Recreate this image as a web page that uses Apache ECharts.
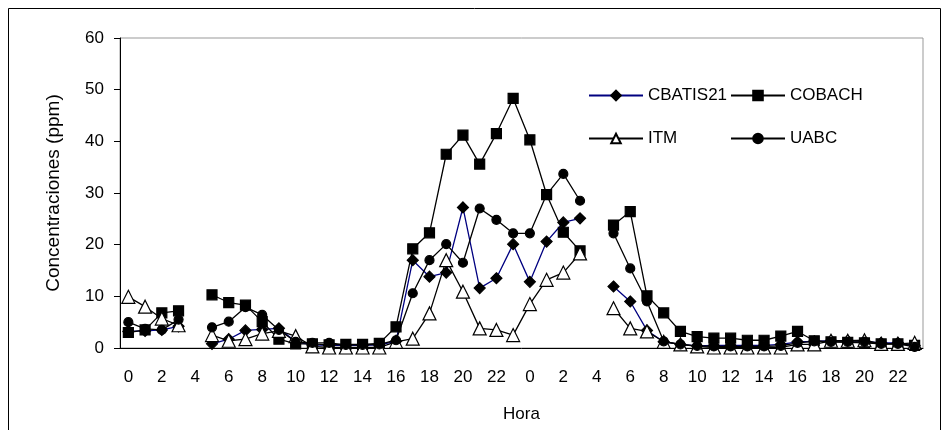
<!DOCTYPE html>
<html>
<head>
<meta charset="utf-8">
<script src="https://cdn.jsdelivr.net/npm/echarts@6/dist/echarts.min.js"></script>
<style>
  html, body { margin: 0; padding: 0; background: #fff; }
  #main { width: 943px; height: 430px; }
</style>
</head>
<body>
<div id="main"></div>
<script>
// horas (dos dias)
const horas = []
for (let d = 0; d < 2; d++) {
  for (let h = 0; h < 24; h++) horas.push(String(h))
}

const cbatis21 = [3.2, 3.3, 3.5, 4.2, null, 0.8, 1.7, 3.4, 3.6, 3.8, 1.2, 0.6, 0.5, 0.5, 0.5, 0.6, 1.3, 17.0, 13.8, 14.6, 27.2, 11.6, 13.5, 20.1,
  12.8, 20.6, 24.3, 25.1, null, 11.9, 9.0, 3.4, 1.2, 0.7, 0.4, 0.5, 0.5, 0.5, 0.5, 0.7, 1.2, 1.3, 1.4, 1.4, 1.3, 1.0, 1.0, 0.5]
const cobach = [3.0, 3.5, 6.8, 7.2, null, 10.3, 8.8, 8.3, 5.1, 1.7, 0.8, 0.8, 0.6, 0.7, 0.7, 0.9, 4.1, 19.2, 22.3, 37.5, 41.2, 35.6, 41.5, 48.3,
  40.3, 29.7, 22.4, 18.8, null, 23.8, 26.4, 10.1, 6.8, 3.2, 2.2, 1.9, 1.9, 1.5, 1.5, 2.3, 3.2, 1.4, 1.2, 1.1, 1.0, 0.8, 0.8, 0.5]
const itm = [9.9, 8.0, 5.7, 4.4, null, 2.5, 1.4, 1.7, 2.8, 3.3, 2.3, 0.3, 0.1, 0.1, 0.1, 0.1, 1.2, 1.8, 6.7, 17.0, 10.9, 3.8, 3.5, 2.5,
  8.5, 13.2, 14.6, 18.3, null, 7.7, 3.8, 3.2, 1.2, 0.7, 0.3, 0.1, 0.1, 0.1, 0.1, 0.1, 0.7, 0.7, 1.4, 1.4, 1.5, 0.8, 0.8, 1.0]
const uabc = [5.0, 3.7, 3.5, 5.5, null, 4.0, 5.1, 7.9, 6.4, 3.5, 1.2, 1.0, 1.0, 0.6, 0.6, 0.7, 1.5, 10.6, 17.0, 20.1, 16.5, 27.0, 24.8, 22.2,
  22.2, 29.7, 33.7, 28.5, null, 22.2, 15.4, 9.0, 1.3, 0.7, 0.4, 0.3, 0.3, 0.3, 0.3, 0.4, 1.0, 1.3, 1.2, 1.2, 1.2, 0.8, 0.8, 0.2]

const font = 'Liberation Sans, Arial, sans-serif'
const fs = 17

function serie(name, data, symbol, size, color, fill) {
  return {
    name: name,
    type: 'line',
    data: data,
    symbol: symbol,
    symbolSize: size,
    showAllSymbol: true,
    connectNulls: false,
    lineStyle: { color: color, width: 1.3 },
    itemStyle: { color: fill, borderColor: '#000', borderWidth: 1.2 },
    emphasis: { disabled: true },
    animation: false
  }
}

function leyenda(name, left, top) {
  return {
    data: [name],
    left: left,
    top: top,
    padding: 0,
    itemWidth: 54,
    itemHeight: 12,
    itemGap: 4,
    textStyle: { fontFamily: font, fontSize: fs, color: '#000' }
  }
}

var myChart = echarts.init(document.getElementById('main'))
myChart.setOption({
  backgroundColor: '#fff',
  animation: false,
  grid: {
    left: 120, right: 20, top: 38, bottom: 82,
    show: true, borderColor: '#999', borderWidth: 1
  },
  legend: [
    leyenda('CBATIS21', 588, 87),
    leyenda('COBACH', 730, 87),
    leyenda('ITM', 588, 130),
    leyenda('UABC', 730, 130)
  ],
  xAxis: {
    type: 'category',
    data: horas,
    boundaryGap: true,
    name: 'Hora',
    nameLocation: 'middle',
    nameGap: 58,
    nameTextStyle: { fontFamily: font, fontSize: fs, color: '#000' },
    axisLine: { lineStyle: { color: '#000', width: 1 } },
    axisTick: { interval: 0, length: 7, lineStyle: { color: '#000' } },
    axisLabel: { interval: 1, margin: 21, fontFamily: font, fontSize: fs, color: '#000' },
    splitLine: { show: false }
  },
  yAxis: {
    type: 'value',
    min: 0,
    max: 60,
    interval: 10,
    name: 'Concentraciones (ppm)',
    nameLocation: 'middle',
    nameGap: 57,
    nameTextStyle: { fontFamily: font, fontSize: 19, color: '#000' },
    axisLine: { show: true, lineStyle: { color: '#000', width: 1 } },
    axisTick: { show: true, length: 6, lineStyle: { color: '#000' } },
    axisLabel: { margin: 16, fontFamily: font, fontSize: fs, color: '#000' },
    splitLine: { show: false }
  },
  graphic: [{
    type: 'rect',
    shape: { x: 8.5, y: 8.5, width: 932, height: 440 },
    style: { fill: null, stroke: '#000', lineWidth: 1 },
    silent: true
  }],
  series: [
    serie('CBATIS21', cbatis21, 'diamond', 11, '#000080', '#000'),
    serie('COBACH', cobach, 'rect', 10, '#000', '#000'),
    serie('ITM', itm, 'triangle', 13, '#000', '#fff'),
    serie('UABC', uabc, 'circle', 9, '#000', '#000')
  ]
})
</script>
</body>
</html>
